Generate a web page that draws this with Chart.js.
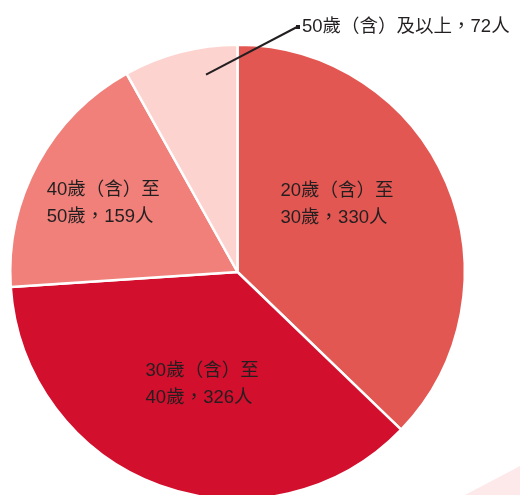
<!DOCTYPE html>
<html>
<head>
<meta charset="utf-8">
<script src="https://cdn.jsdelivr.net/npm/chart.js@4/dist/chart.umd.min.js"></script>
<style>
  html, body { margin: 0; padding: 0; background: #fff; overflow: hidden; }
  #wrap { position: absolute; left: 0; top: 0; width: 520px; height: 544px; }
</style>
</head>
<body>
<div id="wrap"><canvas id="agechart"></canvas></div>
<script>
// age groups, clockwise from the top
var groups = ["20歲（含）至30歲", "30歲（含）至40歲", "40歲（含）至50歲", "50歲（含）及以上"];
var people = [330, 326, 159, 72];
var colors = ["#e35752", "#d20f2d", "#f08079", "#fdd3cf"];

// label text, two lines each (last one single line with a leader)
var labelLines = [
  ["20歲（含）至", "30歲，330人"],
  ["30歲（含）至", "40歲，326人"],
  ["40歲（含）至", "50歲，159人"],
  ["50歲（含）及以上，72人"]
];

var FONT = '18.5px "Liberation Sans", "Noto Sans CJK TC", sans-serif';

var labelPlugin = {
  id: "ageLabels",
  beforeDraw: function (chart) {
    // faint decoration in the bottom right corner
    var c = chart.ctx;
    c.save();
    c.fillStyle = "#fde9e9";
    c.beginPath();
    c.moveTo(465, 495);
    c.lineTo(520, 466);
    c.lineTo(520, 495);
    c.closePath();
    c.fill();
    c.restore();
  },
  afterDraw: function (chart) {
    var c = chart.ctx;
    var arcs = chart.getDatasetMeta(0).data;
    c.save();
    c.font = FONT;
    c.fillStyle = "#231f20";
    c.textBaseline = "middle";
    c.textAlign = "left";

    // inside labels: placed relative to each slice centre
    var offsets = [[-72, -32], [-49, -18], [-81, -22]];
    for (var i = 0; i < 3; i++) {
      var a = arcs[i];
      var mid = (a.startAngle + a.endAngle) / 2;
      var r = a.outerRadius * 0.55;
      var x = a.x + Math.cos(mid) * r + offsets[i][0];
      var y = a.y + Math.sin(mid) * r + offsets[i][1];
      c.fillText(labelLines[i][0], x, y);
      c.fillText(labelLines[i][1], x, y + 27);
    }

    // leader for the small slice
    var s = arcs[3];
    var m = s.startAngle + (s.endAngle - s.startAngle) * 0.69;
    var px = s.x + Math.cos(m) * s.outerRadius * 0.88;
    var py = s.y + Math.sin(m) * s.outerRadius * 0.88;
    var ex = 297, ey = 27;
    c.strokeStyle = "#231f20";
    c.lineWidth = 2;
    c.beginPath();
    c.moveTo(px, py);
    c.lineTo(ex, ey);
    c.stroke();
    c.fillRect(ex - 1, ey - 2, 4, 4);
    c.fillText(labelLines[3][0], ex + 5, ey);
    c.restore();
  }
};

var ctx = document.getElementById("agechart").getContext("2d");
var chart = new Chart(ctx, {
  type: "pie",
  data: {
    labels: groups,
    datasets: [{
      data: people,
      backgroundColor: colors,
      borderColor: "#ffffff",
      borderWidth: 2.5
    }]
  },
  options: {
    responsive: true,
    maintainAspectRatio: false,
    animation: false,
    layout: { padding: { left: 9, right: 54, top: 43, bottom: 43 } },
    plugins: {
      legend: { display: false },
      tooltip: { enabled: false }
    }
  },
  plugins: [labelPlugin]
});
</script>
</body>
</html>
